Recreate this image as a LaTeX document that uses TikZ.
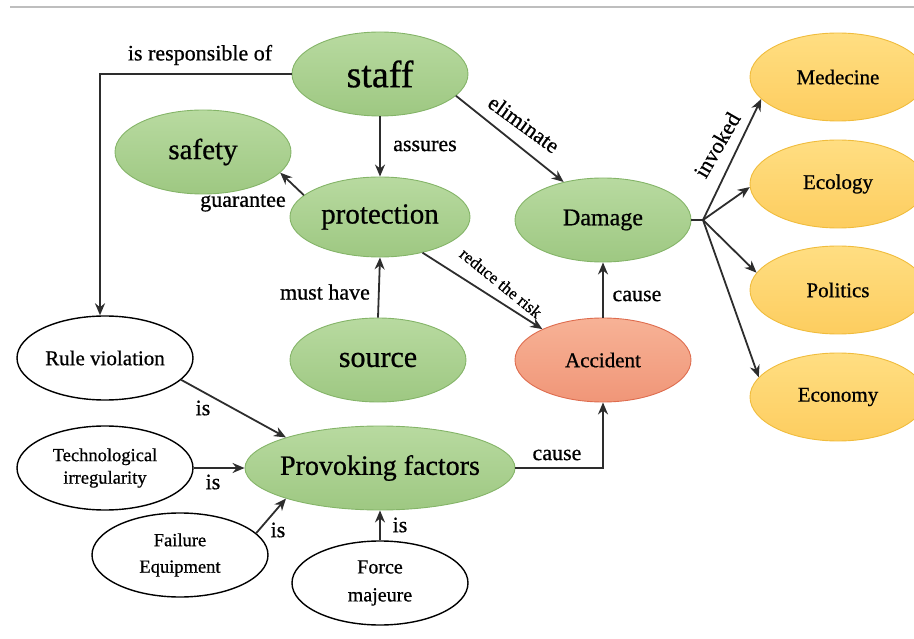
\documentclass[tikz,border=0pt]{standalone}
\usepackage{fontspec}
\setmainfont{Liberation Serif}[FakeBold=0.7]
\usetikzlibrary{shapes.geometric,arrows.meta}
\definecolor{gtop}{RGB}{184,218,160}
\definecolor{gbot}{RGB}{158,200,130}
\definecolor{gdraw}{RGB}{132,180,104}
\definecolor{otop}{RGB}{255,222,130}
\definecolor{obot}{RGB}{253,205,95}
\definecolor{odraw}{RGB}{240,188,60}
\definecolor{atop}{RGB}{247,178,150}
\definecolor{abot}{RGB}{240,150,120}
\definecolor{adraw}{RGB}{222,108,78}
\definecolor{lc}{RGB}{45,45,45}
\definecolor{topline}{RGB}{190,190,190}
\newcommand{\fs}[1]{\fontsize{#1}{#1}\selectfont}
\tikzset{
  base/.style={ellipse, inner sep=0pt, align=center},
  gnode/.style={base, top color=gtop, bottom color=gbot, draw=gdraw, line width=0.9pt, minimum width=176pt, minimum height=84pt},
  onode/.style={base, top color=otop, bottom color=obot, draw=odraw, line width=0.9pt, minimum width=176pt, minimum height=88pt, font=\fs{21}},
  anode/.style={base, top color=atop, bottom color=abot, draw=adraw, line width=0.9pt, minimum width=176pt, minimum height=84pt, font=\fs{21}},
  wnode/.style={base, fill=white, draw=black, line width=1.4pt, minimum width=176pt, minimum height=84pt},
  arr/.style={draw=lc, line width=1.8pt, -{Stealth[length=12pt,width=10pt]}},
  plain/.style={draw=lc, line width=1.8pt},
  lbl/.style={font=\fs{22}, inner sep=0pt, text=black},
}
\begin{document}
\begin{tikzpicture}[x=1pt,y=-1pt]
\useasboundingbox (0,0) rectangle (914,639);
\clip (0,0) rectangle (914,639);
\draw[topline, line width=1.4pt] (10,7) -- (914,7);

% nodes
\node[gnode, font=\fs{38}] (staff) at (380,74) {staff};
\node[gnode, font=\fs{29}] (safety) at (203,152) {safety};
\node[gnode, font=\fs{29}, minimum width=180pt, minimum height=80pt] (prot) at (380,217) {protection};
\node[gnode, font=\fs{24}] (dmg) at (603,220) {Damage};
\node[gnode, font=\fs{30}] (src) at (378,360) {source};
\node[anode] (acc) at (603,360) {Accident};
\node[gnode, font=\fs{28}, minimum width=270pt, inner xsep=-30pt] (pf) at (380,468) {Provoking factors};
\node[wnode, font=\fs{21}] (rv) at (105,358) {Rule violation};
\node[wnode, font=\fs{18.5}] (tech) at (105,468) {Technological\\[4pt]irregularity};
\node[wnode, font=\fs{18.5}] (fail) at (180,555) {Failure\\[8pt]Equipment};
\node[wnode, font=\fs{20}] (fm) at (380,583) {Force\\[8pt]majeure};
\node[onode] (med) at (838,77) {Medecine};
\node[onode] (eco) at (838,184) {Ecology};
\node[onode] (pol) at (838,290) {Politics};
\node[onode] (econ) at (838,397) {Economy};
\coordinate (hub) at (703,220);

% connectors
\draw[arr] (staff.west) -| ([xshift=-5pt]rv.north);
\node[lbl] at (200,55) {is responsible of};
\draw[arr] (staff.south) -- (prot.north);
\node[lbl] at (425,146) {assures};
\draw[arr] (staff.-16) -- (dmg.136);
\node[lbl, rotate=-36] at (524,124) {eliminate};
\draw[arr] (prot.164) -- (safety.-15);
\node[lbl] at (243,203) {guarantee};
\draw[arr] (src.north) -- (prot.south);
\node[lbl] at (325,292) {must have};
\draw[arr] (prot.-40) -- (acc.153);
\node[lbl, font=\fs{17}, rotate=-39] at (501,283) {reduce the risk};
\draw[arr] (acc.north) -- (dmg.south);
\node[lbl] at (637,296) {cause};
\draw[plain] (dmg.east) -- (hub);
\draw[arr] (hub) -- (med.196);
\draw[arr] (hub) -- (eco.182);
\draw[arr] (hub) -- (pol.168);
\draw[arr] (hub) -- (econ.166);
\node[lbl, rotate=60] at (717,145) {invoked};
\draw[arr] (pf.east) -| (acc.south);
\node[lbl] at (557,455) {cause};
\draw[arr] (rv.-16) -- (pf.162);
\node[lbl] at (203,408) {is};
\draw[arr] (tech.east) -- (pf.west);
\node[lbl] at (213,482) {is};
\draw[arr] (fail.16) -- (pf.198);
\node[lbl] at (278,530) {is};
\draw[arr] (fm.north) -- (pf.south);
\node[lbl] at (400,525) {is};
\end{tikzpicture}
\end{document}
